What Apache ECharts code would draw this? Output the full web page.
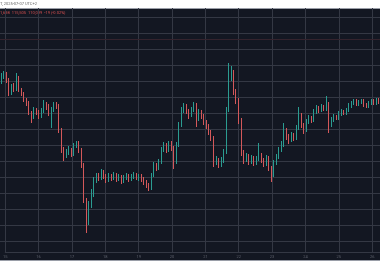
<!DOCTYPE html>
<html><head><meta charset="utf-8">
<script src="https://cdn.jsdelivr.net/npm/echarts@6/dist/echarts.min.js"></script>
<style>
html,body{margin:0;padding:0;background:#fff}
#c{width:380px;height:280px;background:linear-gradient(to bottom,#fff 0,#fff 8px,#9a9ea8 8px,#9a9ea8 9px,#131722 9px,#131722 260px,#9a9ea8 260px,#9a9ea8 261px,#fff 261px)}
</style>
</head><body><div id="c"></div>
<script>
const dayLabels = ['15','16','17','18','19','20','21','22','23','24','25','26'];
const headerText = 'T, 2025-07-07 UTC+2';
const ohlcText = '1,698  115,505  110,099  -19 (-0.02%)';
const priceLine = 202;

const opens = [160,165,167,161,148,155,151,163,151,147,141,138,128,124,131,128,125,130,137,134,129,131,136,135,111,91,86,89,91,87,95,98,91,76,41,19,36,46,61,65,63,69,65,61,65,63,66,62,64,60,63,65,62,64,66,63,65,62,59,56,53,66,76,73,79,91,96,91,97,93,79,96,116,131,135,130,126,131,136,123,129,125,119,115,109,103,79,81,76,80,89,131,166,169,149,141,121,89,81,85,79,83,78,82,86,81,77,83,73,66,78,84,91,96,111,105,101,106,103,113,126,116,111,119,123,121,129,133,131,134,132,137,116,121,124,123,127,129,128,131,135,138,140,137,139,140,136,135,138,140,138,141];
const closes = [165,167,161,148,155,151,163,151,147,141,138,128,124,131,128,125,130,137,134,129,131,136,135,111,91,86,89,91,87,95,98,91,76,41,19,36,46,61,65,63,69,65,61,65,63,66,62,64,60,63,65,62,64,66,63,65,62,59,56,53,66,76,73,79,91,96,91,97,93,79,96,116,131,135,130,126,131,136,123,129,125,119,115,109,103,79,81,76,80,89,131,166,169,149,141,121,89,81,85,79,83,78,82,86,81,77,83,73,66,78,84,91,96,111,105,101,106,103,113,126,116,111,119,123,121,129,133,131,134,132,137,116,121,124,123,127,129,128,131,135,138,140,137,139,140,136,135,138,140,138,141,139];
const lows = [157,162,158,145,146,149,150,149,145,139,135,126,118,122,126,122,123,128,131,125,113,129,132,108,88,80,83,86,84,85,93,88,73,38,8,16,33,44,58,60,61,62,58,59,60,61,59,60,57,58,61,59,60,62,61,60,59,56,53,50,51,64,70,71,77,89,88,89,90,72,77,94,114,128,127,122,124,129,114,120,122,116,112,106,100,74,76,73,74,78,87,129,160,146,137,117,85,77,79,76,77,75,76,80,78,74,75,70,59,64,76,82,89,94,101,97,99,100,101,111,113,107,109,117,118,119,127,128,129,130,130,108,114,119,121,121,125,126,126,129,133,136,135,135,137,134,133,133,136,136,136,137];
const highs = [168,170,169,163,157,158,168,165,153,149,143,140,130,134,133,131,133,141,139,137,134,139,139,137,113,94,92,95,93,98,100,100,93,78,43,40,52,64,68,68,72,71,67,68,67,69,68,67,66,66,68,67,67,69,68,67,67,64,61,58,68,79,78,82,94,99,98,100,100,95,99,119,134,138,137,132,134,139,138,132,131,127,121,117,111,105,85,83,84,92,134,178,175,171,152,143,123,91,88,87,86,85,85,98,88,83,86,85,75,81,87,94,100,118,113,107,109,108,116,134,128,118,122,126,125,132,136,135,137,136,145,139,124,127,126,130,132,131,133,138,140,142,142,141,142,142,138,140,142,142,143,143];

const cats = opens.map((_, i) => String(i));
const candleData = opens.map((o, i) => [o, closes[i], lows[i], highs[i]]);

const chart = echarts.init(document.getElementById('c'), null, {renderer:'canvas'});
chart.setOption({
  backgroundColor: 'transparent',
  animation: false,
  grid: [
    {left: -1, width: 382, top: 8, height: 244, show: false},
    {left: 0, right: 0, top: 17, height: 224, show: false}
  ],
  xAxis: [
    {gridIndex: 0, type: 'value', min: 0, max: 382, interval: 34,
     splitLine: {show: true, lineStyle: {color: '#343844', width: 1}},
     axisLine: {show: true, lineStyle: {color: '#343844'}},
     axisTick: {show: false},
     axisLabel: {show: true, fontSize: 4, color: '#5d606b', margin: 3, fontFamily: 'Roboto',
       showMinLabel: true, showMaxLabel: false,
       formatter: v => (v % 34 === 0 ? (dayLabels[v / 34] || '') : '')}},
    {gridIndex: 1, type: 'category', data: cats, boundaryGap: true,
     axisLine: {show: false}, axisTick: {show: false}, axisLabel: {show: false}, splitLine: {show: false}}
  ],
  yAxis: [
    {gridIndex: 0, type: 'value', min: 0, max: 1, show: false},
    {gridIndex: 1, type: 'value', min: 0, max: 224, interval: 16,
     axisLine: {show: false}, axisTick: {show: false}, axisLabel: {show: false},
     splitLine: {show: true, lineStyle: {color: '#343844', width: 1}}}
  ],
  series: [{
    type: 'candlestick', xAxisIndex: 1, yAxisIndex: 1,
    data: candleData, barWidth: '45%',
    itemStyle: {color: '#2b9c91', color0: '#d4585a', borderColor: '#2b9c91', borderColor0: '#d4585a', borderWidth: 1},
    markLine: {silent: true, symbol: 'none', label: {show: false},
      lineStyle: {color: '#34232d', type: 'solid', width: 1},
      data: [{yAxis: priceLine}]}
  }],
  graphic: [
    {type: 'text', left: 0, top: 2, style: {text: headerText, fontSize: 4, fill: '#666', fontFamily: 'Roboto'}},
    {type: 'text', left: 0, top: 11, style: {text: ohlcText, fontSize: 4, fill: '#d85050', fontFamily: 'Roboto'}}
  ]
});
</script>
</body></html>
